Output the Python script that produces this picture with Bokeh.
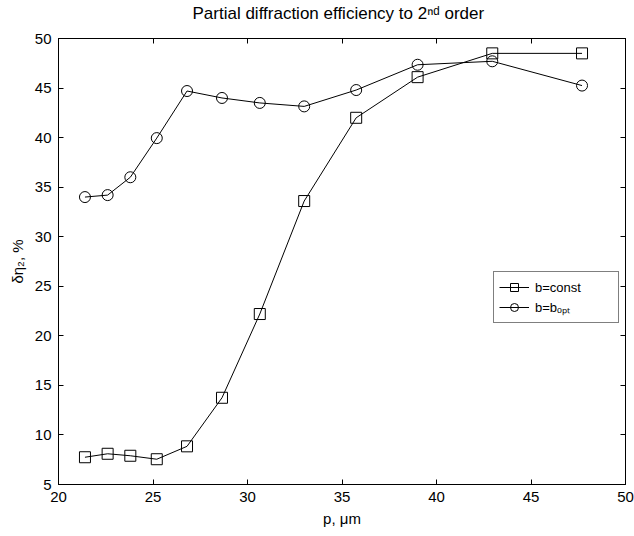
from bokeh.plotting import figure
from bokeh.models import LinearAxis, Legend, LegendItem, Range1d, FixedTicker
from bokeh.embed import file_html
from bokeh.resources import INLINE

# ---- data ----
p_um = [21.4, 22.6, 23.8, 25.2, 26.8, 28.65, 30.65, 33.0, 35.75, 39.0, 42.95, 47.7]
eff_const = [7.75, 8.1, 7.9, 7.55, 8.85, 13.75, 22.2, 33.6, 42.0, 46.1, 48.5, 48.5]
eff_opt = [34.0, 34.2, 36.0, 39.95, 44.7, 44.0, 43.5, 43.15, 44.8, 47.35, 47.7, 45.25]
x_ticks = [20, 25, 30, 35, 40, 45, 50]
y_ticks = [5, 10, 15, 20, 25, 30, 35, 40, 45, 50]
legend_labels = ["b=const", "b=bₒₚₜ"]

FONT = "Liberation Sans"

p = figure(width=634, height=536, output_backend="svg", toolbar_location=None,
           x_range=Range1d(20, 50), y_range=Range1d(5, 50),
           min_border_left=58, min_border_right=9, min_border_top=38,
           min_border_bottom=52)
p.background_fill_color = "white"
p.border_fill_color = "white"
p.outline_line_color = "black"
p.outline_line_width = 1
p.xgrid.visible = False
p.ygrid.visible = False

p.title.text = "Partial diffraction efficiency to 2ⁿᵈ order"
p.title.text_font = FONT
p.title.text_font_size = "17px"
p.title.text_font_style = "normal"
p.title.text_color = "black"
p.title.align = "left"
p.title.offset = 134
p.title.standoff = 2
p.title.padding = dict(left=0, right=0, top=0, bottom=15)

def style_axis(ax, ticks, show_labels):
    ax.ticker = FixedTicker(ticks=ticks)
    ax.major_tick_in = 5
    ax.major_tick_out = 0
    ax.minor_tick_line_color = None
    ax.axis_line_color = "black"
    ax.major_tick_line_color = "black"
    ax.major_label_text_font = FONT
    ax.major_label_text_font_size = "15px"
    ax.major_label_text_color = "black"
    ax.axis_label_text_font = FONT
    ax.axis_label_text_font_size = "15px"
    ax.axis_label_text_font_style = "normal"
    ax.axis_label_text_color = "black"
    if not show_labels:
        ax.major_label_overrides = {t: "" for t in ticks}
        ax.major_label_standoff = 0

style_axis(p.xaxis[0], x_ticks, True)
style_axis(p.yaxis[0], y_ticks, True)
p.xaxis[0].axis_label = "p, μm"
p.xaxis[0].major_label_standoff = 7
p.xaxis[0].axis_label_standoff = 5
p.yaxis[0].axis_label = "δη₂, %"
p.yaxis[0].major_label_standoff = 7
p.yaxis[0].axis_label_standoff = 6

top_ax = LinearAxis()
right_ax = LinearAxis()
style_axis(top_ax, x_ticks, False)
style_axis(right_ax, y_ticks, False)
p.add_layout(top_ax, "above")
p.add_layout(right_ax, "right")

# ---- series ----
l1 = p.line(p_um, eff_const, line_color="black", line_width=1)
s1 = p.scatter(p_um, eff_const, marker="square", size=11, fill_color=None,
               line_color="black", line_width=1)
l2 = p.line(p_um, eff_opt, line_color="black", line_width=1)
s2 = p.scatter(p_um, eff_opt, marker="circle", size=11, fill_color=None,
               line_color="black", line_width=1)

legend = Legend(items=[LegendItem(label=legend_labels[0], renderers=[l1, s1]),
                       LegendItem(label=legend_labels[1], renderers=[l2, s2])],
                location=(435, 161), padding=5, spacing=0, margin=0,
                glyph_width=30, glyph_height=20, label_height=20,
                label_width=78, label_standoff=6,
                border_line_color="black", border_line_width=1,
                background_fill_color="white", background_fill_alpha=1,
                label_text_font=FONT, label_text_font_size="13px",
                label_text_color="black")
p.add_layout(legend)

open("out.html", "w").write(file_html(p, INLINE))
